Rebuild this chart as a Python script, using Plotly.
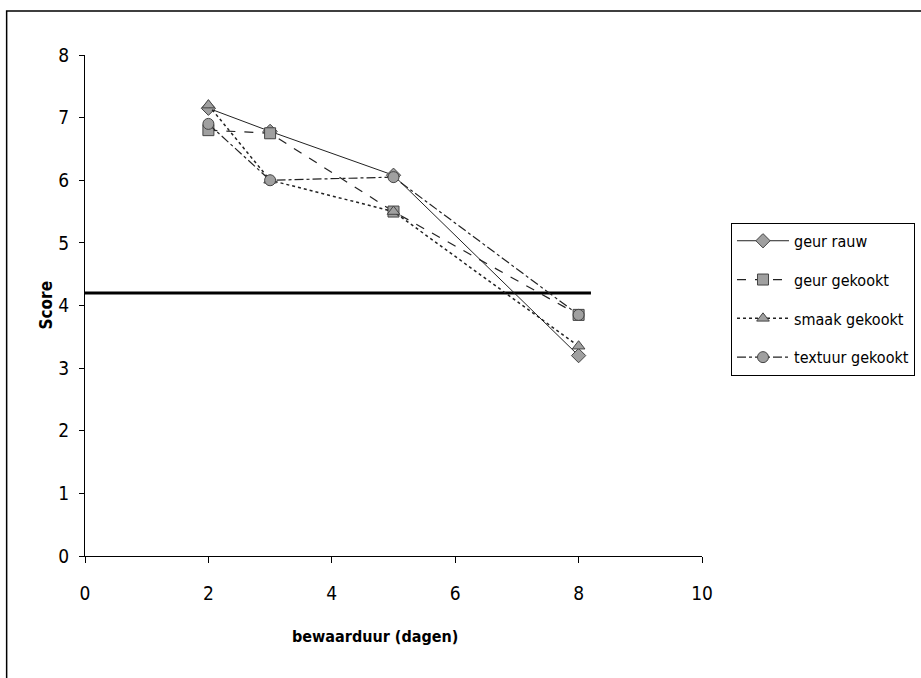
import plotly.graph_objects as go

days = [2, 3, 5, 8]
geur_rauw = [7.15, 6.78, 6.08, 3.2]
geur_gekookt = [6.8, 6.75, 5.5, 3.85]
smaak_gekookt = [7.2, 6.0, 5.5, 3.35]
textuur_gekookt = [6.9, 6.0, 6.05, 3.85]
series_names = ["geur rauw", "geur gekookt", "smaak gekookt", "textuur gekookt"]
threshold_x = [0, 8.2]
threshold_y = [4.2, 4.2]
x_ticks = [0, 2, 4, 6, 8, 10]
y_ticks = [0, 1, 2, 3, 4, 5, 6, 7, 8]

FONT = "DejaVu Sans Condensed, Liberation Sans Narrow, Arial Narrow, Liberation Sans, sans-serif"

styles = [
    dict(dash="solid", symbol="diamond", width=1),
    dict(dash="dash", symbol="square", width=1.2),
    dict(dash="dot", symbol="triangle-up", width=1.5),
    dict(dash="dashdot", symbol="circle", width=1.2),
]
values = [geur_rauw, geur_gekookt, smaak_gekookt, textuur_gekookt]

fig = go.Figure()
fig.add_trace(go.Scatter(x=threshold_x, y=threshold_y, mode="lines",
                         line=dict(color="black", width=3), showlegend=False,
                         hoverinfo="skip"))
for i, (name, vals, st) in enumerate(zip(series_names, values, styles)):
    fig.add_trace(go.Scatter(
        x=days, y=vals, name=name, mode="lines+markers", legendgroup=f"g{i}",
        line=dict(color="#222222", width=st["width"], dash=st["dash"]),
        marker=dict(symbol=st["symbol"], size=11, color="#a0a0a0",
                    line=dict(color="#444444", width=1)),
    ))

fig.update_layout(
    width=921, height=678,
    margin=dict(l=85, r=219, t=55, b=122, autoexpand=False),
    paper_bgcolor="white", plot_bgcolor="white",
    font=dict(family=FONT, size=16, color="black"),
    legend=dict(x=1.047, y=0.665, xanchor="left", yanchor="top",
                bordercolor="black", borderwidth=1, bgcolor="white",
                font=dict(family=FONT, size=16, color="black"),
                itemwidth=52, tracegroupgap=15),
    shapes=[dict(type="rect", xref="paper", yref="paper",
                 x0=-0.127, x1=1.4, y0=-0.3, y1=1.088,
                 line=dict(color="black", width=1.5), layer="below")],
    annotations=[
        dict(text="<b>bewaarduur (dagen)</b>", xref="paper", yref="paper",
             x=(375 - 85) / 617, y=-(636 - 556) / 501, showarrow=False,
             font=dict(family=FONT, size=16), xanchor="center", yanchor="middle"),
        dict(text="<b>Score</b>", xref="paper", yref="paper",
             x=-(85 - 45) / 617, y=0.5, showarrow=False, textangle=-90,
             font=dict(family=FONT, size=17), xanchor="center", yanchor="middle"),
    ],
)
fig.update_xaxes(range=[0, 10], tickvals=x_ticks, showline=True, linecolor="black",
                 linewidth=1, ticks="outside", ticklen=6, tickcolor="black",
                 showgrid=False, zeroline=False, ticklabelstandoff=14,
                 tickfont=dict(family=FONT, size=19))
fig.update_yaxes(range=[0, 8], tickvals=y_ticks, showline=True, linecolor="black",
                 linewidth=1, ticks="outside", ticklen=5, tickcolor="black",
                 showgrid=False, zeroline=False, ticklabelstandoff=6,
                 tickfont=dict(family=FONT, size=19))

fig.write_html("out.html")
